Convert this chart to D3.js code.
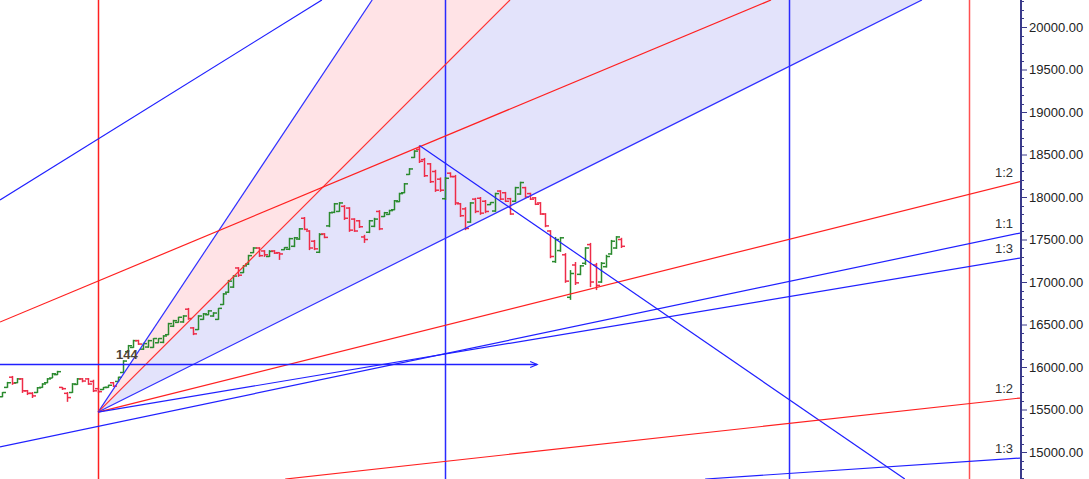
<!DOCTYPE html>
<html lang="en">
<head>
<meta charset="UTF-8">
<title>Gann fan chart</title>
<style>
  * { margin: 0; padding: 0; }
  body { background: #fff; width: 1089px; height: 479px; overflow: hidden; }
  svg { display: block; font-family: "Liberation Sans", Arial, sans-serif; }
  .tick-label { font-size: 13px; fill: #222; }
  .ratio { font-size: 13px; fill: #333; }
</style>
</head>
<body>
<div id="chart"></div>
<script src="https://d3js.org/d3.v7.min.js"></script>
<script>
// OHLC per bar (index = position on the chart)
const opens = [15650,15760,15880,15815,15860,15720,15690,15700,15760,15815,15870,15910,15760,15690,15700,15795,15860,15860,15830,15745,
  15735,15760,15815,15830,15935,16180,16230,16310,16210,16235,16230,16285,16290,16380,16480,16525,16530,16680,16460,16440,
  16560,16615,16600,16560,16735,16880,16940,17165,17110,17210,17345,17400,17365,17300,17365,17345,17380,17385,17420,17505,
  17750,17600,17480,17350,17565,17660,17820,17830,17890,17870,17740,17720,17530,17585,17655,17830,17770,17795,17850,17945,
  18050,18265,18465,18560,18440,18390,18300,18210,17980,18280,18240,17920,17860,17705,17975,17985,17950,17910,17835,18070,
  18050,17980,17950,18035,18110,18040,17990,17930,17800,17600,17240,17370,17320,16820,17200,17090,17220,17440,17200,17000,
  17180,17330,17400,17500];
const highs = [15705,15825,15895,15870,15870,15730,15705,15765,15810,15870,15930,15955,15765,15705,15810,15870,15870,15870,15850,15755,
  15765,15790,15825,15885,16080,16260,16320,16320,16285,16320,16340,16340,16375,16520,16555,16590,16610,16695,16470,16610,
  16635,16670,16645,16695,16870,17025,17080,17175,17200,17320,17410,17410,17375,17375,17375,17350,17410,17520,17530,17635,
  17765,17610,17495,17575,17575,17825,17930,17940,17905,17880,17750,17730,17555,17730,17755,17845,17825,17850,17965,18050,
  18165,18340,18550,18605,18460,18400,18320,18230,18235,18290,18260,17930,17880,17940,17990,18000,17965,17940,18050,18080,
  18060,17990,18120,18180,18120,18050,18000,17940,17810,17610,17530,17530,17340,17140,17235,17200,17410,17460,17225,17235,
  17320,17495,17540,17520];
const lows = [15645,15755,15790,15810,15695,15670,15635,15695,15755,15810,15870,15905,15730,15590,15695,15790,15820,15790,15705,15695,
  15730,15755,15765,15825,15930,16175,16225,16260,16200,16225,16225,16280,16280,16375,16470,16520,16520,16555,16375,16435,
  16555,16610,16590,16555,16730,16870,16930,17060,17105,17200,17340,17295,17295,17295,17330,17260,17375,17375,17410,17495,
  17610,17375,17375,17340,17515,17645,17810,17825,17730,17590,17590,17635,17460,17575,17645,17610,17765,17790,17845,17940,
  18045,18260,18460,18400,18235,18165,18060,18060,17965,18230,17905,17765,17610,17695,17810,17790,17810,17905,17825,17965,
  17940,17790,17940,18025,17990,17965,17905,17790,17645,17280,17225,17355,16990,16790,16965,17080,17200,16940,16905,16990,
  17170,17320,17390,17400];
const closes = [15700,15815,15810,15860,15720,15690,15660,15755,15800,15860,15920,15945,15745,15640,15800,15860,15835,15800,15720,15710,
  15760,15785,15775,15880,16070,16250,16310,16270,16275,16310,16335,16335,16365,16510,16545,16585,16600,16570,16390,16600,
  16625,16660,16635,16690,16860,17010,17070,17080,17190,17310,17400,17310,17320,17360,17340,17330,17405,17510,17520,17625,
  17620,17400,17390,17560,17525,17815,17920,17930,17750,17610,17600,17650,17500,17720,17740,17625,17815,17840,17955,18040,
  18155,18330,18540,18420,18250,18180,18080,18080,18220,18240,17930,17780,17630,17930,17830,17810,17830,17935,18040,17975,
  17950,17800,18110,18170,18000,17975,17915,17800,17660,17300,17500,17520,17010,17100,16990,17190,17400,17000,16960,17220,
  17300,17480,17530,17420];

// price axis ticks
const majorTicks = [15000,15500,16000,16500,17000,17500,18000,18500,19000,19500,20000];

// drawing tools: [startIndex, startPrice, endIndex, endPrice, colour]
const pivot = [19.1, 15470];
const peak = [83, 18605];
const toolLines = [
  [pivot[0], pivot[1], 73.6, 20318, "#3030ff"],
  [pivot[0], pivot[1], 101.0, 20318, "#ff3030"],
  [pivot[0], pivot[1], 182.9, 20318, "#3030ff"],
  [pivot[0], pivot[1], 202.4, 18182, "#ff2020"],
  [pivot[0], pivot[1], 202.4, 17282, "#2020ff"],
  [-0.4, 15059, 202.4, 17576, "#2020ff"],
  [-0.4, 16529, 152.9, 20318, "#ff2020"],
  [-0.4, 17965, 63.6, 20318, "#2020ff"],
  [peak[0], peak[1], 179.5, 14682, "#2020ff"],
  [56.3, 14682, 202.4, 15635, "#ff2020"],
  [139.8, 14682, 202.4, 14929, "#2020ff"]
];
const verticals = [[19.1, "#ff2020"], [88.1, "#2a2aff"], [156.5, "#2a2aff"], [192.2, "#ff5050"]];
const arrowPrice = 16035, arrowEnd = 106.4;
const ratioLabels = [["1:2", 18182], ["1:1", 17576], ["1:3", 17282], ["1:2", 15635], ["1:3", 14929]];

const W = 1089, H = 479, plotW = 1020;

const svg = d3.select("#chart").append("svg")
  .attr("width", W).attr("height", H);

const x = d3.scaleLinear().domain([-0.4, 202.4]).range([0, plotW]);
const y = d3.scaleLinear().domain([15000, 20000]).range([452, 27]);

svg.append("clipPath").attr("id", "plot")
  .append("rect").attr("x", 0).attr("y", 0).attr("width", plotW).attr("height", H);

const plot = svg.append("g").attr("clip-path", "url(#plot)");

// shaded fan sectors
const pt = d => [x(d[0]), y(d[1])];
plot.append("polygon")
  .attr("points", [pivot, [73.6, 20318], [101.0, 20318]].map(pt).join(" "))
  .attr("fill", "#ffe3e6");
plot.append("polygon")
  .attr("points", [pivot, [101.0, 20318], [182.9, 20318]].map(pt).join(" "))
  .attr("fill", "#e3e3fb");

// vertical markers
plot.selectAll(".vline").data(verticals).enter().append("line")
  .attr("x1", d => Math.round(x(d[0])) + 0.5).attr("x2", d => Math.round(x(d[0])) + 0.5)
  .attr("y1", 0).attr("y2", H)
  .attr("stroke", d => d[1]).attr("stroke-width", 1.5);

// OHLC bars
const bars = plot.append("g");
opens.forEach((o, i) => {
  const cx = Math.round(x(i)) + 0.5;
  const col = closes[i] >= o ? "#2a8a2e" : "#ee2c48";
  const g = bars.append("g").attr("stroke", col).attr("stroke-width", 1.5);
  g.append("line").attr("x1", cx).attr("x2", cx).attr("y1", y(highs[i])).attr("y2", y(lows[i]));
  g.append("line").attr("x1", cx - 3.5).attr("x2", cx).attr("y1", y(o)).attr("y2", y(o));
  g.append("line").attr("x1", cx).attr("x2", cx + 3.5).attr("y1", y(closes[i])).attr("y2", y(closes[i]));
});

// fan and trend lines
plot.selectAll(".tool").data(toolLines).enter().append("line")
  .attr("x1", d => x(d[0])).attr("y1", d => y(d[1]))
  .attr("x2", d => x(d[2])).attr("y2", d => y(d[3]))
  .attr("stroke", d => d[4]).attr("stroke-width", 1.2);

// horizontal arrow
const ay = Math.round(y(arrowPrice)) + 0.5, ax = x(arrowEnd);
plot.append("line").attr("x1", 0).attr("x2", ax).attr("y1", ay).attr("y2", ay)
  .attr("stroke", "#2020ff").attr("stroke-width", 1.5);
plot.append("path").attr("d", `M${ax - 7},${ay - 3}L${ax},${ay}L${ax - 7},${ay + 3}`)
  .attr("fill", "none").attr("stroke", "#2020ff").attr("stroke-width", 1.2);

plot.append("text").attr("x", 116).attr("y", 359)
  .attr("font-size", 13).attr("fill", "#4f4535").attr("font-weight", "bold").text("144");

// ratio labels at right edge
svg.selectAll(".ratio").data(ratioLabels).enter().append("text")
  .attr("class", "ratio")
  .attr("x", 1013).attr("y", d => y(d[1]) - 5)
  .attr("text-anchor", "end").text(d => d[0]);

// price axis
const axis = d3.axisRight(y).tickValues(majorTicks).tickSize(6)
  .tickFormat(d3.format(".2f"));
const ag = svg.append("g").attr("transform", `translate(${plotW + 1},0)`).call(axis);
ag.select(".domain").remove();
ag.selectAll(".tick line").attr("stroke", "#3a3a8a");
ag.selectAll(".tick text").attr("class", "tick-label").attr("x", 8).attr("fill", "#222")
  .attr("font-size", 13).attr("font-family", "Liberation Sans, Arial, sans-serif");
ag.append("line").attr("x1", 0).attr("x2", 0).attr("y1", 0).attr("y2", H)
  .attr("stroke", "#3a3a8a").attr("stroke-width", 2);
const minor = d3.range(14700, 20400, 100).filter(v => v % 500 !== 0);
ag.selectAll(".minor").data(minor).enter().append("line")
  .attr("x1", 0).attr("x2", 3)
  .attr("y1", d => Math.round(y(d)) + 0.5).attr("y2", d => Math.round(y(d)) + 0.5)
  .attr("stroke", "#3a3a8a");
</script>
</body>
</html>
